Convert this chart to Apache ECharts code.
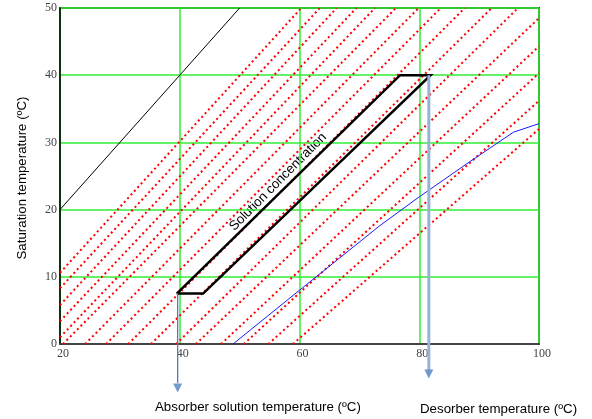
<!DOCTYPE html>
<html>
<head>
<meta charset="utf-8">
<script src="https://cdn.jsdelivr.net/npm/echarts@6/dist/echarts.min.js"></script>
<style>html,body{margin:0;padding:0;background:#fff}#c{width:592px;height:419px}</style>
</head>
<body>
<div id="c"></div>
<script>
// ---- data ----
var xTicks = [20, 40, 60, 80, 100];
var yTicks = [0, 10, 20, 30, 40, 50];
// Dühring (constant concentration) lines: start and end points
var duhringStart = [[20,10.6],[20,8.3],[20,5.8],[20,3.4],[20,1.0],[20.5,0],[24.2,0],[27.7,0],[31.4,0],[35.2,0],[39.4,0],[42.7,0],[46.9,0],[50.7,0],[54.8,0],[58.9,0]];
var duhringEnd   = [[60.3,50],[63.4,50],[66.2,50],[69.5,50],[72.6,50],[76.1,50],[79.9,50],[83.6,50],[87.6,50],[92.1,50],[96.5,50],[100,48.5],[100,44.3],[100,40.3],[100,36.2],[100,32.0]];
// pure water line (saturation = solution temperature)
var waterLine = [[20,20],[50,50]];
// solution concentration cycle
var cycle = [[39.5,7.5],[76.8,40],[81.9,40],[43.9,7.5],[39.5,7.5]];
// blue curve
var blueCurve = [[48.9,0],[60,8.0],[73.4,17.6],[80,21.9],[88.4,27.1],[95.7,31.5],[100,32.8]];
// arrows: x, from y, to y, head centre y
var absorberArrow = {x:39.65, y0:7.5, y1:-5.8, head:-6.55};
var desorberArrow = {x:81.6, y0:40, y1:-3.9, head:-4.46};

var chart = echarts.init(document.getElementById('c'), null, {renderer:'canvas'});
var series = [];
for (var i = 0; i < duhringStart.length; i++) {
  series.push({type:'line', data:[duhringStart[i], duhringEnd[i]], symbol:'none', silent:true,
    lineStyle:{color:'#ff0000', width:2, type:[2,3], cap:'butt'}, z:2});
}
series.push({type:'line', data:waterLine, symbol:'none', lineStyle:{color:'#000', width:1}, z:3});
series.push({type:'line', data:blueCurve, symbol:'none', lineStyle:{color:'#1a1aff', width:1}, z:3});
series.push({type:'line', data:cycle, symbol:'none', lineStyle:{color:'#000', width:2.5, join:'miter'}, z:4});
series.push({type:'line', data:[[absorberArrow.x,absorberArrow.y0],[absorberArrow.x,absorberArrow.y1]], symbol:'none', clip:false,
  lineStyle:{color:'#4a7ebb', width:1.3}, z:5});
series.push({type:'line', data:[[desorberArrow.x,desorberArrow.y0],[desorberArrow.x,desorberArrow.y1]], symbol:'none', clip:false,
  lineStyle:{color:'#95b3d7', width:3}, z:5});
series.push({type:'scatter', data:[[absorberArrow.x,absorberArrow.head],[desorberArrow.x,desorberArrow.head]], clip:false,
  symbol:'triangle', symbolRotate:180, symbolSize:[9,9], itemStyle:{color:'#4f81bd'}, z:6});

var labelFont = {fontFamily:'Liberation Serif', fontSize:12, color:'#444'};
var titleFont = '13.3px "Liberation Sans"';
chart.setOption({
  animation:false,
  backgroundColor:'#fff',
  grid:{left:60, right:53, top:8, bottom:75, show:true, borderColor:'#2d5a27', borderWidth:2, backgroundColor:'transparent'},
  xAxis:{type:'value', min:xTicks[0], max:xTicks[xTicks.length-1], interval:20,
    axisLine:{lineStyle:{color:'#444', width:2}}, axisTick:{show:false},
    axisLabel:Object.assign({margin:4, padding:[0,0,0,6]}, labelFont),
    splitLine:{lineStyle:{color:'#33ee33', width:1.5}}},
  yAxis:{type:'value', min:yTicks[0], max:yTicks[yTicks.length-1], interval:10,
    axisLine:{show:true, lineStyle:{color:'#000', width:1.5}}, axisTick:{show:false},
    axisLabel:Object.assign({margin:3}, labelFont),
    splitLine:{lineStyle:{color:'#33ee33', width:1.5}}},
  series:series,
  graphic:[
    {type:'text', x:22, y:178, rotation:Math.PI/2, style:{text:'Saturation temperature (ºC)', font:titleFont, fill:'#000', align:'center', verticalAlign:'middle'}},
    {type:'text', x:155, y:407, style:{text:'Absorber solution temperature (ºC)', font:titleFont, fill:'#000', align:'left', verticalAlign:'middle'}},
    {type:'text', x:420, y:409, style:{text:'Desorber temperature (ºC)', font:titleFont, fill:'#000', align:'left', verticalAlign:'middle'}},
    {type:'text', x:278, y:182, rotation:0.79, style:{text:'Solution concentration', font:titleFont, fill:'#000', align:'center', verticalAlign:'middle'}}
  ]
});
</script>
</body>
</html>
